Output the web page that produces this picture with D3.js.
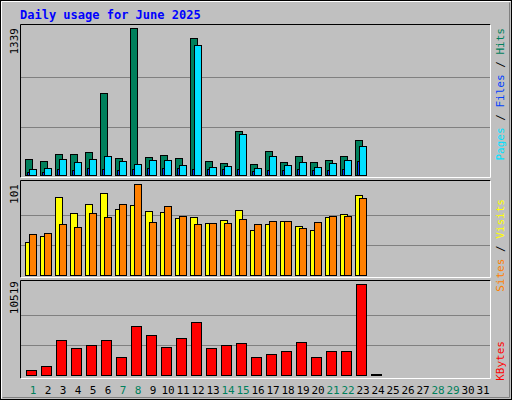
<!DOCTYPE html>
<html><head><meta charset="utf-8">
<script src="https://cdn.jsdelivr.net/npm/d3@7"></script>
<style>body{margin:0;background:#fff}svg{display:block}text{font-family:"DejaVu Sans Mono",monospace}</style>
</head><body><svg width="512" height="400"></svg>
<script>
const days = d3.range(1, 32);
const weekend = [1,7,8,14,15,21,22,28,29];
const hits   = [158,140,203,203,213,750,167,1339,176,194,167,1251,140,121,404,112,222,131,185,131,149,185,322,2];
const files  = [67,76,158,131,158,185,140,112,149,149,103,1187,85,94,376,76,185,103,131,85,121,149,267,0];
const pages  = [36,39,67,58,76,67,58,67,76,76,76,67,67,67,67,49,58,58,67,58,58,67,140,0];
const visits = [37,44,87,69,79,91,74,78,71,70,64,65,58,61,72,50,57,60,55,50,65,68,89,0];
const sites  = [46,47,57,54,69,65,79,101,59,77,66,57,58,58,63,57,60,60,53,59,66,66,86,0];
const kbytes = [729,1190,4069,3148,3493,4069,2227,5682,4645,3263,4300,6142,3148,3493,3724,2227,2572,2802,3839,2227,2802,2802,10519,230];
const maxHits = 1339, maxVisits = 101, maxKB = 10519;

const svg = d3.select('svg');
// frame
svg.append('rect').attr('x',0.5).attr('y',0.5).attr('width',511).attr('height',399).attr('fill','#c0c0c0').attr('stroke','#000');
svg.append('path').attr('d','M1.5,398.5V1.5H510.5').attr('fill','none').attr('stroke','#fff');
svg.append('path').attr('d','M2.5,397.5H509.5V2.5').attr('fill','none').attr('stroke','#808080');

svg.append('text').attr('x',20).attr('y',19).attr('fill','#0000ff').attr('font-weight','bold').attr('font-size',12).text('Daily usage for June 2025');

const x = d3.scaleLinear().domain([1, 2]).range([25, 40]);

function panel(top, bottom, barBottom, maxV) {
  svg.append('rect').attr('x',20.5).attr('y',top+0.5).attr('width',470).attr('height',bottom-top).attr('fill','#c0c0c0');
  const y = d3.scaleLinear().domain([0, maxV]).range([barBottom, barBottom - (barBottom - top - 4)]);
  [1/3, 2/3].forEach(f => svg.append('line').attr('x1',21).attr('x2',490).attr('y1',Math.round(y(maxV*f))+0.5).attr('y2',Math.round(y(maxV*f))+0.5).attr('stroke','#808080'));
  svg.append('path').attr('d',`M20.5,${bottom+0.5}V${top+0.5}H490.5`).attr('fill','none').attr('stroke','#000');
  svg.append('path').attr('d',`M20.5,${bottom+0.5}H490.5V${top+0.5}`).attr('fill','none').attr('stroke','#fff');
  return y;
}
function bars(data, y, dx, w, color) {
  svg.append('g').selectAll('rect').data(data).join('rect')
    .attr('x', (d,i) => x(i+1) + dx + 0.5).attr('width', w)
    .attr('y', d => Math.round(y(d)) + 0.5).attr('height', d => Math.max(0, Math.round(y(0) - y(d)) - 1))
    .attr('fill', color).attr('stroke', '#000');
}
function vtext(xp, yEnd, parts, size) {
  const t = svg.append('text').attr('transform',`translate(${xp},${yEnd}) rotate(-90)`).attr('text-anchor','end').attr('font-size',size);
  parts.forEach(p => t.append('tspan').attr('fill',p[1]).text(p[0]));
}

// hits panel
const y1 = panel(24, 177, 176, maxHits);
bars(hits, y1, 0, 7, '#00805c');
bars(pages, y1, 2, 3, '#0040ff');
bars(files, y1, 4, 7, '#00e0ff');
vtext(18, 28, [['1339','#000']], 11);
vtext(504, 28, [['Pages','#00e0ff'],[' / ','#000'],['Files','#0040ff'],[' / ','#000'],['Hits','#00805c']], 11);

// visits panel
const y2 = panel(180, 277, 276, maxVisits);
bars(visits, y2, 0, 7, '#ffff00');
bars(sites, y2, 4, 7, '#ff8000');
vtext(18, 184, [['101','#000']], 11);
vtext(504, 199, [['Sites','#ff8000'],[' / ','#000'],['Visits','#ffff00']], 11);

// kbytes panel
const y3 = panel(280, 378, 376, maxKB);
bars(kbytes, y3, 1, 10, '#ff0000');
vtext(18, 281, [['10519','#000']], 11);
vtext(504, 341, [['KBytes','#ff0000']], 11);

svg.append('g').selectAll('text').data(days).join('text')
  .attr('x', d => x(d) + 8).attr('y', 394).attr('text-anchor','middle').attr('font-size',11)
  .attr('fill', d => weekend.includes(d) ? '#00805c' : '#000').text(d => d);
</script></body></html>
